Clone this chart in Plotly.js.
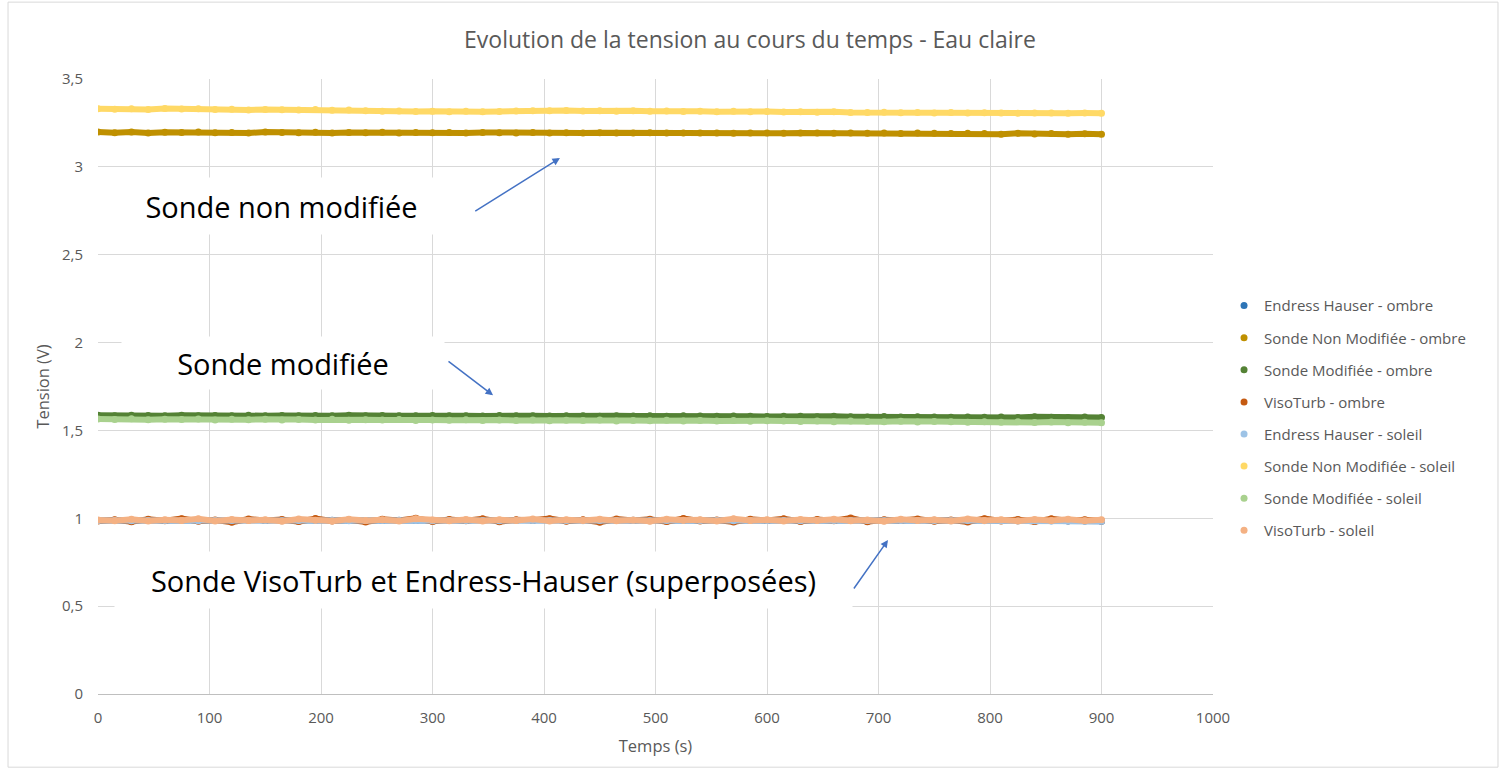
<!DOCTYPE html>
<html>
<head>
<meta charset="utf-8">
<script src="https://cdn.plot.ly/plotly-3.0.1.min.js"></script>
<style>
  html, body { margin: 0; padding: 0; background: #ffffff; }
  #chart { width: 1500px; height: 774px; }
</style>
</head>
<body>
<div id="chart"></div>
<script>
// Time (s)
const temps = [0,15,30,45,60,75,90,105,120,135,150,165,180,195,210,225,240,255,270,285,300,315,330,345,360,375,390,405,420,435,450,465,480,495,510,525,540,555,570,585,600,615,630,645,660,675,690,705,720,735,750,765,780,795,810,825,840,855,870,885,900];

// Tension (V) per series
const ehOmbre = [0.988,0.987,0.989,0.988,0.987,0.989,0.988,0.987,0.988,0.989,0.987,0.988,0.988,0.987,0.989,0.988,0.987,0.988,0.989,0.987,0.988,0.988,0.987,0.989,0.988,0.987,0.988,0.989,0.987,0.988,0.988,0.987,0.989,0.988,0.987,0.988,0.989,0.987,0.988,0.988,0.987,0.989,0.988,0.987,0.988,0.989,0.987,0.988,0.988,0.987,0.989,0.988,0.987,0.988,0.987,0.986,0.987,0.986,0.985,0.984,0.983];
const snmOmbre = [3.198,3.194,3.199,3.193,3.197,3.195,3.199,3.194,3.196,3.193,3.198,3.195,3.194,3.197,3.193,3.195,3.194,3.197,3.193,3.196,3.194,3.195,3.193,3.196,3.194,3.193,3.195,3.193,3.194,3.192,3.194,3.193,3.192,3.194,3.192,3.193,3.192,3.193,3.191,3.193,3.192,3.191,3.193,3.192,3.191,3.192,3.191,3.192,3.190,3.192,3.191,3.190,3.191,3.190,3.186,3.191,3.187,3.190,3.186,3.189,3.186];
const smOmbre = [1.586,1.584,1.587,1.585,1.583,1.586,1.584,1.585,1.583,1.586,1.584,1.585,1.583,1.585,1.584,1.586,1.583,1.585,1.584,1.583,1.585,1.583,1.584,1.582,1.585,1.583,1.584,1.582,1.584,1.583,1.581,1.584,1.582,1.583,1.581,1.583,1.582,1.580,1.582,1.581,1.579,1.581,1.580,1.578,1.580,1.578,1.577,1.579,1.576,1.578,1.576,1.575,1.577,1.575,1.576,1.574,1.578,1.575,1.574,1.576,1.574];
const vtOmbre = [0.985,0.992,0.980,0.995,0.986,0.998,0.983,0.990,0.978,0.996,0.987,0.993,0.981,0.999,0.985,0.991,0.979,0.994,0.988,1.000,0.982,0.993,0.986,0.997,0.980,0.992,0.989,0.998,0.983,0.991,0.978,0.996,0.987,0.994,0.981,0.999,0.985,0.990,0.979,0.995,0.988,0.997,0.982,0.993,0.986,1.001,0.980,0.992,0.987,0.996,0.983,0.990,0.979,0.998,0.985,0.993,0.981,0.997,0.986,0.991,0.984];
const ehSoleil = [0.987,0.988,0.986,0.987,0.988,0.987,0.986,0.988,0.987,0.987,0.988,0.986,0.987,0.988,0.987,0.986,0.988,0.987,0.987,0.988,0.986,0.987,0.988,0.987,0.986,0.988,0.987,0.987,0.988,0.986,0.987,0.988,0.987,0.986,0.988,0.987,0.987,0.988,0.986,0.987,0.988,0.987,0.986,0.988,0.987,0.987,0.988,0.986,0.987,0.988,0.987,0.986,0.987,0.986,0.986,0.985,0.986,0.985,0.984,0.984,0.983];
const snmSoleil = [3.330,3.328,3.331,3.327,3.332,3.329,3.330,3.326,3.328,3.324,3.327,3.325,3.323,3.326,3.322,3.324,3.320,3.316,3.318,3.315,3.317,3.314,3.316,3.313,3.315,3.318,3.320,3.319,3.321,3.318,3.320,3.317,3.319,3.316,3.318,3.315,3.317,3.314,3.316,3.313,3.315,3.312,3.314,3.311,3.313,3.310,3.309,3.311,3.308,3.310,3.307,3.309,3.306,3.308,3.307,3.305,3.307,3.306,3.305,3.306,3.305];
const smSoleil = [1.565,1.562,1.566,1.561,1.564,1.562,1.565,1.560,1.563,1.561,1.564,1.559,1.562,1.560,1.563,1.558,1.561,1.559,1.562,1.557,1.560,1.558,1.561,1.556,1.559,1.557,1.560,1.555,1.558,1.556,1.559,1.554,1.557,1.555,1.558,1.553,1.556,1.554,1.557,1.552,1.555,1.553,1.551,1.554,1.550,1.553,1.551,1.549,1.552,1.548,1.551,1.549,1.547,1.550,1.546,1.549,1.545,1.548,1.544,1.547,1.544];
const vtSoleil = [0.990,0.986,0.995,0.984,0.992,0.988,0.997,0.985,0.993,0.987,0.991,0.983,0.996,0.989,0.985,0.994,0.988,0.992,0.984,0.997,0.990,0.986,0.993,0.985,0.991,0.988,0.996,0.984,0.992,0.987,0.994,0.986,0.990,0.983,0.995,0.989,0.992,0.985,0.997,0.988,0.991,0.984,0.993,0.987,0.995,0.986,0.990,0.983,0.994,0.988,0.992,0.985,0.996,0.987,0.991,0.984,0.993,0.988,0.995,0.986,0.992];

const seriesNames = ["Endress Hauser - ombre","Sonde Non Modifiée - ombre","Sonde Modifiée - ombre","VisoTurb - ombre","Endress Hauser - soleil","Sonde Non Modifiée - soleil","Sonde Modifiée - soleil","VisoTurb - soleil"];
const seriesValues = [ehOmbre, snmOmbre, smOmbre, vtOmbre, ehSoleil, snmSoleil, smSoleil, vtSoleil];
const seriesColors = ["#2E75B6","#BF9000","#548235","#C55A11","#9DC3E6","#FFD966","#A9D18E","#F4B183"];

const traces = [];
seriesValues.forEach((vals, i) => {
  traces.push({
    type: 'scatter', mode: 'lines+markers', x: temps, y: vals,
    name: seriesNames[i], showlegend: false, hoverinfo: 'x+y',
    line: {color: seriesColors[i], width: 6},
    marker: {color: seriesColors[i], size: 7}
  });
});
seriesValues.forEach((vals, i) => {
  traces.push({
    type: 'scatter', mode: 'markers', x: [null], y: [null],
    name: seriesNames[i], legendgroup: 'g' + i, showlegend: true,
    marker: {color: seriesColors[i], size: 7}
  });
});

const txtFont = {family: 'Open Sans, sans-serif', size: 29, color: '#000000'};
const arrowColor = '#4472C4';

const layout = {
  width: 1500, height: 774,
  paper_bgcolor: '#ffffff', plot_bgcolor: '#ffffff',
  separators: ', ',
  font: {family: 'Open Sans, sans-serif', color: '#595959', size: 15},
  margin: {l: 98, r: 287, t: 79, b: 80, pad: 0},
  title: {text: 'Evolution de la tension au cours du temps - Eau claire',
          font: {family: 'Open Sans, sans-serif', size: 23, color: '#595959'},
          x: 0.5, xanchor: 'center', y: 0.948, yanchor: 'middle'},
  xaxis: {range: [0, 1000], dtick: 100, tick0: 0, showgrid: true, gridcolor: '#D9D9D9', gridwidth: 1,
          zeroline: false, showline: true, linecolor: '#BFBFBF', linewidth: 1, ticks: '',
          ticklabelstandoff: 10,
          tickfont: {size: 15, color: '#595959'},
          title: {text: 'Temps (s)', font: {size: 16.5, color: '#595959'}, standoff: 14}},
  yaxis: {range: [0, 3.5], dtick: 0.5, tick0: 0, showgrid: true, gridcolor: '#D9D9D9', gridwidth: 1,
          zeroline: false, showline: false, ticks: '', ticklabelstandoff: 14,
          tickfont: {size: 15, color: '#595959'},
          title: {text: 'Tension (V)', font: {size: 16.5, color: '#595959'}, standoff: 8}},
  legend: {x: 1.0099, xanchor: 'left', y: 0.658, yanchor: 'top', tracegroupgap: 9.6,
           font: {size: 15, color: '#595959'}, bgcolor: 'rgba(0,0,0,0)'},
  shapes: [
    {type: 'rect', xref: 'paper', yref: 'paper', x0: -0.0807, x1: 1.2556, y0: -0.119, y1: 1.125,
     line: {color: '#D9D9D9', width: 1}, fillcolor: 'rgba(0,0,0,0)'}
  ],
  annotations: [
    {x: 165, y: 2.78, xref: 'x', yref: 'y', text: 'Sonde non modifiée', showarrow: false,
     font: txtFont, bgcolor: '#ffffff', width: 305, height: 54},
    {x: 166, y: 1.884, xref: 'x', yref: 'y', text: 'Sonde modifiée', showarrow: false,
     font: txtFont, bgcolor: '#ffffff', width: 320, height: 50},
    {x: 346, y: 0.649, xref: 'x', yref: 'y', text: 'Sonde VisoTurb et Endress-Hauser (superposées)', showarrow: false,
     font: txtFont, bgcolor: '#ffffff', width: 735, height: 54},
    {x: 414.3, y: 3.05, ax: 337, ay: 2.743, xref: 'x', yref: 'y', axref: 'x', ayref: 'y', text: '',
     showarrow: true, arrowhead: 2, arrowsize: 1, arrowwidth: 1.5, arrowcolor: arrowColor},
    {x: 354.3, y: 1.70, ax: 313, ay: 1.90, xref: 'x', yref: 'y', axref: 'x', ayref: 'y', text: '',
     showarrow: true, arrowhead: 2, arrowsize: 1, arrowwidth: 1.5, arrowcolor: arrowColor},
    {x: 708.5, y: 0.876, ax: 677, ay: 0.592, xref: 'x', yref: 'y', axref: 'x', ayref: 'y', text: '',
     showarrow: true, arrowhead: 2, arrowsize: 1, arrowwidth: 1.5, arrowcolor: arrowColor}
  ]
};

Plotly.newPlot('chart', traces, layout, {displayModeBar: false, staticPlot: true});
</script>
</body>
</html>
